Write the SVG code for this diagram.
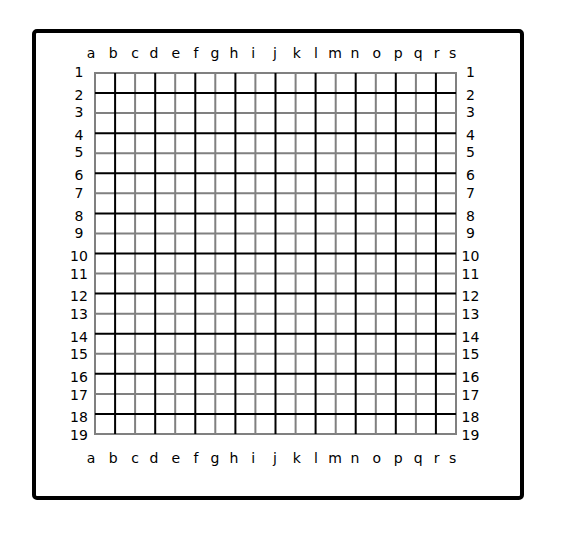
<svg xmlns="http://www.w3.org/2000/svg" width="563" height="533" viewBox="0 0 563 533">
<style>
.lbl{font-family:"DejaVu Sans",Verdana,sans-serif;font-size:14px;fill:#000;text-anchor:middle}
.g{stroke:#808080;stroke-width:2;fill:none}
.b{stroke:#000;stroke-width:2;fill:none}
</style>
<rect x="0" y="0" width="563" height="533" fill="#fff"/>
<rect id="frame" x="34" y="31" width="488" height="467" rx="3" fill="#fff" stroke="#000" stroke-width="4"/>
<g id="grid">
<g id="gray-lines" class="g">
<rect x="95" y="73" width="361" height="361"/>
<path d="M135.1 73V434M175.2 73V434M215.3 73V434M255.4 73V434M295.6 73V434M335.7 73V434M375.8 73V434M415.9 73V434"/>
<path d="M95 113.1H456M95 153.2H456M95 193.3H456M95 233.4H456M95 273.6H456M95 313.7H456M95 353.8H456M95 393.9H456"/>
</g>
<g id="black-lines" class="b">
<path d="M115.1 73V434M155.2 73V434M195.3 73V434M235.4 73V434M275.5 73V434M315.6 73V434M355.7 73V434M395.8 73V434M435.9 73V434"/>
<path d="M95 93.1H456M95 133.2H456M95 173.3H456M95 213.4H456M95 253.5H456M95 293.6H456M95 333.7H456M95 373.8H456M95 413.9H456"/>
</g>
</g>
<g id="top-letters">
<text class="lbl" x="91" y="58">a</text><text class="lbl" x="113.3" y="58">b</text><text class="lbl" x="135" y="58">c</text><text class="lbl" x="154" y="58">d</text><text class="lbl" x="175.7" y="58">e</text><text class="lbl" x="196" y="58">f</text><text class="lbl" x="215" y="58">g</text><text class="lbl" x="234" y="58">h</text><text class="lbl" x="253.3" y="58">i</text><text class="lbl" x="275" y="58">j</text><text class="lbl" x="296.7" y="58">k</text><text class="lbl" x="316" y="58">l</text><text class="lbl" x="335" y="58">m</text><text class="lbl" x="355" y="58">n</text><text class="lbl" x="376.7" y="58">o</text><text class="lbl" x="398.3" y="58">p</text><text class="lbl" x="418.3" y="58">q</text><text class="lbl" x="436.7" y="58">r</text><text class="lbl" x="452.7" y="58">s</text>
</g>
<g id="bottom-letters">
<text class="lbl" x="91" y="463">a</text><text class="lbl" x="113.3" y="463">b</text><text class="lbl" x="135" y="463">c</text><text class="lbl" x="154" y="463">d</text><text class="lbl" x="175.7" y="463">e</text><text class="lbl" x="196" y="463">f</text><text class="lbl" x="215" y="463">g</text><text class="lbl" x="234" y="463">h</text><text class="lbl" x="253.3" y="463">i</text><text class="lbl" x="275" y="463">j</text><text class="lbl" x="296.7" y="463">k</text><text class="lbl" x="316" y="463">l</text><text class="lbl" x="335" y="463">m</text><text class="lbl" x="355" y="463">n</text><text class="lbl" x="376.7" y="463">o</text><text class="lbl" x="398.3" y="463">p</text><text class="lbl" x="418.3" y="463">q</text><text class="lbl" x="436.7" y="463">r</text><text class="lbl" x="452.7" y="463">s</text>
</g>
<g id="left-numbers">
<text class="lbl" x="79" y="76.7">1</text><text class="lbl" x="79" y="99.5">2</text><text class="lbl" x="79" y="117.1">3</text><text class="lbl" x="79" y="139.9">4</text><text class="lbl" x="79" y="157.4">5</text><text class="lbl" x="79" y="180.3">6</text><text class="lbl" x="79" y="197.8">7</text><text class="lbl" x="79" y="220.6">8</text><text class="lbl" x="79" y="238.1">9</text><text class="lbl" x="79" y="261">10</text><text class="lbl" x="79" y="278.5">11</text><text class="lbl" x="79" y="301.3">12</text><text class="lbl" x="79" y="318.9">13</text><text class="lbl" x="79" y="341.7">14</text><text class="lbl" x="79" y="359.2">15</text><text class="lbl" x="79" y="382">16</text><text class="lbl" x="79" y="399.6">17</text><text class="lbl" x="79" y="421.7">18</text><text class="lbl" x="79" y="440">19</text>
</g>
<g id="right-numbers">
<text class="lbl" x="470.5" y="76.7">1</text><text class="lbl" x="470.5" y="99.5">2</text><text class="lbl" x="470.5" y="117.1">3</text><text class="lbl" x="470.5" y="139.9">4</text><text class="lbl" x="470.5" y="157.4">5</text><text class="lbl" x="470.5" y="180.3">6</text><text class="lbl" x="470.5" y="197.8">7</text><text class="lbl" x="470.5" y="220.6">8</text><text class="lbl" x="470.5" y="238.1">9</text><text class="lbl" x="470.5" y="261">10</text><text class="lbl" x="470.5" y="278.5">11</text><text class="lbl" x="470.5" y="301.3">12</text><text class="lbl" x="470.5" y="318.9">13</text><text class="lbl" x="470.5" y="341.7">14</text><text class="lbl" x="470.5" y="359.2">15</text><text class="lbl" x="470.5" y="382">16</text><text class="lbl" x="470.5" y="399.6">17</text><text class="lbl" x="470.5" y="421.7">18</text><text class="lbl" x="470.5" y="440">19</text>
</g>
</svg>
